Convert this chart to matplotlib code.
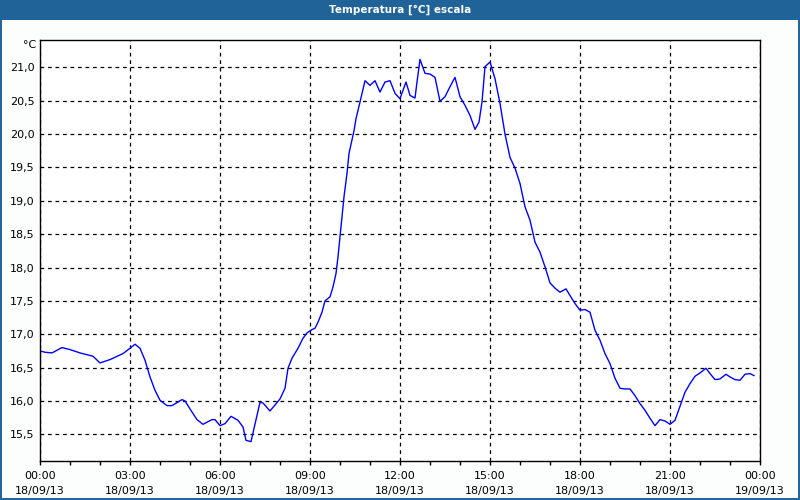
import numpy as np
import matplotlib
matplotlib.use("Agg")
import matplotlib.pyplot as plt
from matplotlib.patches import Rectangle
from matplotlib.ticker import MultipleLocator, FuncFormatter

TITLE = "Temperatura [°C] escala"
UNIT = "°C"
DAY1 = "18/09/13"
DAY2 = "19/09/13"

# minutes since 00:00 18/09/13
minutes = [0, 10, 24, 44, 60, 80, 106, 120, 140, 166,
           180, 190, 200, 210, 220, 230, 240, 254, 264, 284,
           290, 300, 314, 326, 344, 350, 360, 370, 382, 396,
           406, 412, 422, 440, 446, 460, 480, 490, 496, 504,
           516, 526, 534, 544, 550, 556, 564, 570, 580, 586,
           592, 596, 600, 604, 608, 614, 618, 624, 628, 632,
           640, 650, 660, 670, 680, 690, 700, 710, 720, 732,
           740, 750, 754, 760, 770, 780, 790, 800, 810, 820,
           830, 840, 850, 860, 870, 878, 884, 890, 900, 910,
           920, 930, 940, 950, 960, 970, 980, 990, 1000, 1010,
           1020, 1030, 1040, 1052, 1060, 1070, 1080, 1090, 1100, 1110,
           1120, 1130, 1140, 1150, 1160, 1170, 1180, 1190, 1200, 1210,
           1220, 1230, 1240, 1250, 1260, 1270, 1280, 1290, 1300, 1310,
           1320, 1332, 1340, 1350, 1360, 1372, 1380, 1390, 1400, 1410,
           1420, 1428]

temps = [16.75, 16.73, 16.72, 16.80, 16.77, 16.72, 16.67, 16.57, 16.62, 16.71,
         16.79, 16.85, 16.79, 16.61, 16.36, 16.16, 16.01, 15.93, 15.93, 16.02,
         16.00, 15.88, 15.72, 15.65, 15.72, 15.72, 15.63, 15.66, 15.77, 15.71,
         15.61, 15.41, 15.39, 15.98, 15.97, 15.85, 16.03, 16.19, 16.49, 16.64,
         16.79, 16.94, 17.02, 17.07, 17.09, 17.18, 17.33, 17.50, 17.56, 17.71,
         17.91, 18.16, 18.46, 18.76, 19.06, 19.41, 19.71, 19.91, 20.05, 20.23,
         20.48, 20.80, 20.73, 20.80, 20.63, 20.78, 20.80, 20.61, 20.53, 20.78,
         20.58, 20.54, 20.78, 21.12, 20.91, 20.90, 20.85, 20.49, 20.56, 20.71,
         20.85, 20.56, 20.43, 20.28, 20.07, 20.18, 20.48, 21.01, 21.08, 20.83,
         20.46, 20.00, 19.65, 19.49, 19.26, 18.91, 18.71, 18.38, 18.23, 18.01,
         17.77, 17.69, 17.63, 17.68, 17.58, 17.46, 17.36, 17.37, 17.33, 17.06,
         16.91, 16.71, 16.56, 16.34, 16.19, 16.18, 16.18, 16.08, 15.96, 15.86,
         15.74, 15.63, 15.72, 15.70, 15.65, 15.71, 15.92, 16.13, 16.26, 16.37,
         16.42, 16.49, 16.41, 16.32, 16.33, 16.40, 16.36, 16.32, 16.31, 16.40,
         16.41, 16.38]

hours = np.array(minutes) / 60.0

fig = plt.figure(figsize=(8, 5), dpi=100, facecolor="#fcfdfd")

# title bar
fig.patches.append(Rectangle((0, 1 - 20 / 500), 1, 20 / 500, transform=fig.transFigure,
                             facecolor="#1f6398", edgecolor="none", zorder=0))
fig.text(0.5, 1 - 10 / 500, TITLE, ha="center", va="center", color="white",
         fontsize=7.5, fontweight="bold")
# window frame
fig.patches.append(Rectangle((0.0008, 0.0015), 0.9984, 0.96, transform=fig.transFigure,
                             facecolor="none", edgecolor="#1f6398", linewidth=1.4, zorder=0))

ax = fig.add_axes([40 / 800, 39 / 500, 720 / 800, 421 / 500])
ax.set_facecolor("white")
ax.plot(hours, temps, color="#0000ff", linewidth=1.0)

ax.set_xlim(0, 24)
ax.set_ylim(15.1, 21.41)

ax.xaxis.set_major_locator(MultipleLocator(3))
ax.xaxis.set_minor_locator(MultipleLocator(1))


def xfmt(v, pos):
    h = int(round(v)) % 24
    day = DAY2 if v >= 23.99 else DAY1
    return f"{h:02d}:00\n{day}"


ax.xaxis.set_major_formatter(FuncFormatter(xfmt))
ax.set_yticks([t for t in np.arange(15.5, 21.01, 0.5)])
ax.yaxis.set_major_formatter(FuncFormatter(lambda v, p: f"{v:.1f}".replace(".", ",")))

ax.tick_params(axis="x", which="both", direction="out", length=3, width=1,
               labelsize=8, pad=4, color="black")
ax.tick_params(axis="y", which="both", length=0, labelsize=8, pad=4)
for lab in ax.get_xticklabels():
    lab.set_linespacing(1.6)

ax.grid(True, which="major", color="black", linestyle=(0, (3, 3)), linewidth=0.9)
for s in ax.spines.values():
    s.set_linewidth(1)
    s.set_color("black")

ax.text(-4 / 720, 1 - 5 / 421, UNIT, transform=ax.transAxes, ha="right", va="center", fontsize=8)

fig.savefig("out.png", dpi=100, facecolor=fig.get_facecolor())
